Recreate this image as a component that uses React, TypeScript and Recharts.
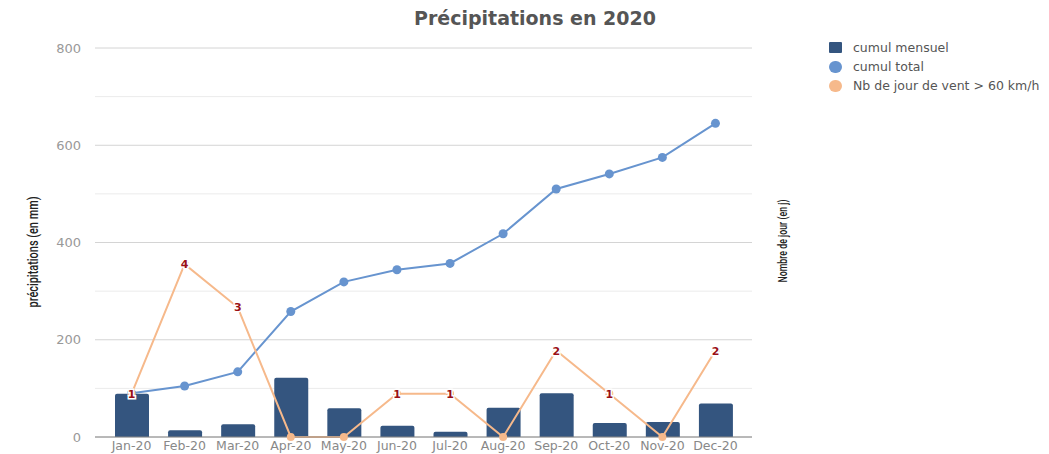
import {
  Bar,
  CartesianGrid,
  ComposedChart,
  Line,
  XAxis,
  YAxis,
} from "recharts";

const months = ["Jan-20", "Feb-20", "Mar-20", "Apr-20", "May-20", "Jun-20", "Jul-20", "Aug-20", "Sep-20", "Oct-20", "Nov-20", "Dec-20"];
const cumulMensuel = [89, 14, 26, 122, 59, 23, 11, 60, 90, 29, 31, 69];
const cumulTotal = [90, 105, 134, 258, 319, 344, 357, 418, 510, 541, 575, 645];
const joursVent = [1, 4, 3, 0, 0, 1, 1, 0, 2, 1, 0, 2];
const yTicks = [0, 100, 200, 300, 400, 500, 600, 700, 800];

const data = months.map((m, i) => ({
  mois: m,
  mensuel: cumulMensuel[i],
  total: cumulTotal[i],
  vent: joursVent[i],
}));

const BAR = "#34557f";
const BLUE = "#6794cf";
const ORANGE = "#f6b98b";
const FONT = "'DejaVu Sans', sans-serif";
const NARROW = "'Roboto', 'DejaVu Sans Condensed', sans-serif";

const legendItems = [
  { label: "cumul mensuel", color: BAR, square: true },
  { label: "cumul total", color: BLUE, square: false },
  { label: "Nb de jour de vent > 60 km/h", color: ORANGE, square: false },
];

// value labels on the wind line: dark red with a white halo, hidden for 0
const VentLabel = (props: any) => {
  const { x, y, value } = props;
  if (!value) return null;
  return (
    <text
      x={x}
      y={y}
      dy="0.36em"
      textAnchor="middle"
      fontFamily={FONT}
      fontSize={11}
      fontWeight="bold"
      fill="#9b1016"
      stroke="#fff"
      strokeWidth={3}
      paintOrder="stroke"
    >
      {value}
    </text>
  );
};

// condensed axis titles, squeezed to a fixed length
const AxisTitle = (x: number, cy: number, text: string, size: number, len: number) => (
  <text
    x={x}
    y={cy}
    transform={`rotate(-90 ${x} ${cy})`}
    textAnchor="middle"
    dy="0.35em"
    fontFamily={NARROW}
    fontSize={size}
    fontWeight={500}
    textLength={len}
    lengthAdjust="spacingAndGlyphs"
    fill="#222"
  >
    {text}
  </text>
);

// every 200 mm a stronger line, the 100 mm steps in between lighter
const GridLine = (p: any) => (
  <line
    x1={p.x1}
    x2={p.x2}
    y1={p.y1}
    y2={p.y2}
    stroke={p.index % 2 === 0 ? "#d4d4d4" : "#ebebeb"}
    strokeWidth={1}
  />
);

export default function App() {
  return (
    <div style={{ position: "absolute", left: 0, top: 0, width: 1049, height: 454, background: "#fff" }}>
      <div
        style={{
          position: "absolute",
          left: 0,
          width: 1070,
          top: 7,
          textAlign: "center",
          fontFamily: FONT,
          fontWeight: "bold",
          fontSize: 19,
          color: "#555",
        }}
      >
        Précipitations en 2020
      </div>

      <div style={{ position: "absolute", left: 829, top: 38, fontFamily: FONT, fontSize: 12.5, color: "#555" }}>
        {legendItems.map((it) => (
          <div key={it.label} style={{ display: "flex", alignItems: "center", height: 19 }}>
            <span
              style={{
                display: "inline-block",
                width: 13,
                height: it.square ? 11 : 12,
                borderRadius: it.square ? 1 : 6,
                background: it.color,
                marginRight: 11,
              }}
            />
            {it.label}
          </div>
        ))}
      </div>

      <ComposedChart
        width={1049}
        height={454}
        data={data}
        margin={{ top: 48, right: 257, bottom: 0, left: 35 }}
      >
        <CartesianGrid yAxisId="left" vertical={false} horizontal={GridLine} />
        <XAxis
          dataKey="mois"
          padding={{ left: 10, right: 10 }}
          height={17}
          tickLine={false}
          tickSize={0}
          tickMargin={4}
          axisLine={{ stroke: "#888" }}
          tick={{ fill: "#888", fontSize: 12.5, fontFamily: FONT }}
          interval={0}
        />
        <YAxis
          yAxisId="left"
          width={60}
          domain={[0, 800]}
          ticks={yTicks}
          tickFormatter={(v: number) => (v % 200 === 0 ? String(v) : "")}
          axisLine={false}
          tickLine={false}
          tickMargin={8}
          tick={{ fill: "#999", fontSize: 13, fontFamily: FONT }}
          label={(p: any) => AxisTitle(p.viewBox.x - 2, 252, "précipitations (en mm)", 14, 111)}
        />
        <YAxis
          yAxisId="right"
          orientation="right"
          width={40}
          domain={[0, 9]}
          tick={false}
          axisLine={false}
          tickLine={false}
          label={(p: any) => AxisTitle(p.viewBox.x + 31, 241, "Nombre de jour (en j)", 12, 83)}
        />
        <Bar yAxisId="left" dataKey="mensuel" fill={BAR} barSize={34} radius={[2, 2, 0, 0]} isAnimationActive={false} />
        <Line
          yAxisId="left"
          dataKey="total"
          type="linear"
          stroke={BLUE}
          strokeWidth={2}
          dot={{ r: 4.5, fill: BLUE, stroke: BLUE, strokeWidth: 0 }}
          isAnimationActive={false}
        />
        <Line
          yAxisId="right"
          dataKey="vent"
          type="linear"
          stroke={ORANGE}
          strokeWidth={2}
          dot={{ r: 4, fill: ORANGE, stroke: ORANGE, strokeWidth: 0 }}
          label={<VentLabel />}
          isAnimationActive={false}
        />
      </ComposedChart>
    </div>
  );
}
